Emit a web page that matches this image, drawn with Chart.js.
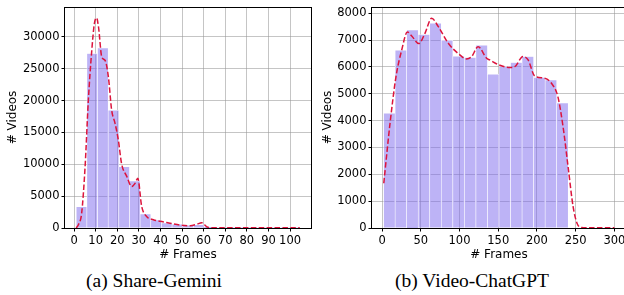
<!DOCTYPE html>
<html lang="en">
<head>
<meta charset="UTF-8">
<title>Frame distribution</title>
<script src="https://cdn.jsdelivr.net/npm/chart.js@4.4.1/dist/chart.umd.min.js"></script>
<style>
    body { margin: 0; background: #fff; }
    #wrap { position: relative; width: 624px; height: 295px; overflow: hidden; }
    .panel { position: absolute; top: 0; }
    .caption {
        position: absolute; top: 270px; width: 220px; text-align: center;
        font-family: "Liberation Serif", "Times New Roman", serif; font-size: 19.5px; line-height: 22px; color: #000;
    }
</style>
</head>
<body>
<div id="wrap">
    <div class="panel" style="left:0;width:312px;height:262px"><canvas id="gemini" width="312" height="262"></canvas></div>
    <div class="panel" style="left:312px;width:315px;height:262px"><canvas id="chatgpt" width="315" height="262"></canvas></div>
    <div class="caption" style="left:44px">(a) Share-Gemini</div>
    <div class="caption" style="left:362px">(b) Video-ChatGPT</div>
</div>

<script>
// Share-Gemini histogram (bin centres, counts) and KDE curve
const geminiBins = [3.47, 8.40, 13.33, 18.26, 23.19, 28.12, 33.05, 37.98, 42.91, 47.84, 52.77,
                    57.70, 62.63, 67.56, 72.49, 77.42, 82.35, 87.28, 92.21, 97.14, 102.07];
const geminiCounts = [3340, 27390, 28280, 18500, 9620, 7370, 2200, 1250, 800, 600, 450,
                      500, 120, 60, 40, 30, 30, 20, 20, 20, 15];
const geminiKdeX = [1, 2, 3.5, 5.1, 6.6, 8.2, 9.4, 10.4, 11.3, 12.8, 14.4, 15.9, 17.4, 19, 20.5, 22,
                    24.4, 26.7, 28.2, 29.5, 31.3, 33.6, 36.7, 39.8, 44.4, 49, 53.7, 56.8, 59.1, 61.4,
                    63.7, 70, 80, 90, 104.5];
const geminiKdeY = [0, 520, 2300, 9600, 20000, 27900, 32100, 33000, 31600, 26900, 26300, 23700, 18500,
                    16400, 13800, 10100, 8100, 6500, 7000, 7800, 3400, 1800, 1300, 1050, 760, 470, 360,
                    580, 830, 200, 50, 30, 30, 30, 20];
const geminiXTicks = [0, 10, 20, 30, 40, 50, 60, 70, 80, 90, 100];
const geminiYTicks = [0, 5000, 10000, 15000, 20000, 25000, 30000];

// Video-ChatGPT histogram and KDE curve
const chatgptBins = [9.45, 24.35, 39.25, 54.15, 69.05, 83.95, 98.85, 113.75, 128.65, 143.55,
                     158.45, 173.35, 188.25, 203.15, 218.05, 232.95];
const chatgptCounts = [4270, 6620, 7377, 7203, 7626, 6993, 6397, 6346, 6807, 5730,
                       6011, 6160, 6384, 5601, 5514, 4658];
const chatgptKdeX = [2.2, 10.3, 18, 25.4, 32.7, 38.3, 47.5, 55.4, 64, 72.6, 85.5, 100.5, 109, 115.6,
                     124, 135, 139, 151, 165, 171.5, 182, 188.6, 197, 210, 218.7, 227, 233.7, 240.2,
                     246.7, 251.9, 257.4, 265, 280, 300];
const chatgptKdeY = [1665, 3900, 5640, 6630, 7300, 7150, 6870, 7250, 7810, 7500, 6880, 6446, 6297, 6380,
                     6750, 6320, 6260, 6073, 5975, 6010, 6384, 6260, 5664, 5577, 5391, 4893, 3775, 2285,
                     795, 170, 20, 5, 5, 5];
const chatgptXTicks = [0, 50, 100, 150, 200, 250, 300];
const chatgptYTicks = [0, 1000, 2000, 3000, 4000, 5000, 6000, 7000, 8000];

Chart.defaults.font.family = "'DejaVu Sans', sans-serif";
Chart.defaults.color = '#000';

const frame = {
    id: 'frame',
    afterDraw(chart) {
        const { ctx, chartArea: a } = chart;
        ctx.save();
        ctx.strokeStyle = '#000';
        ctx.lineWidth = 1;
        ctx.strokeRect(Math.round(a.left) - 0.5, Math.round(a.top) + 0.5,
                       Math.round(a.right - a.left) + 1, Math.round(a.bottom - a.top));
        ctx.restore();
    }
};

function makeChart(id, bins, counts, kdeX, kdeY, xTicks, yTicks, xRange, yMax, yAxisWidth, yTitlePad) {
    const grid = {
        color: 'rgba(150,150,150,0.7)',
        lineWidth: 0.8,
        borderDash: [1.5, 1.5],
        tickColor: '#000',
        tickLength: 3.5,
        tickWidth: 1,
        tickBorderDash: [],
        offset: false
    };
    new Chart(document.getElementById(id), {
        type: 'bar',
        data: {
            datasets: [{
                type: 'line',
                order: 0,
                data: kdeX.map((x, i) => ({ x: x, y: kdeY[i] })),
                borderColor: '#DC143C',
                borderWidth: 1.5,
                borderDash: [5.5, 2.4],
                pointRadius: 0,
                cubicInterpolationMode: 'monotone',
                fill: false
            }, {
                type: 'bar',
                order: 1,
                data: bins.map((x, i) => ({ x: x, y: counts[i] })),
                backgroundColor: 'rgba(123,104,238,0.5)',
                borderColor: 'rgba(255,255,255,0.9)',
                borderWidth: { left: 0.6, right: 0.6, top: 0.6, bottom: 0 },
                borderSkipped: false,
                barPercentage: 1,
                categoryPercentage: 1,
                grouped: false
            }]
        },
        options: {
            responsive: false,
            animation: false,
            events: [],
            layout: { padding: { top: 7, right: 1, left: 0, bottom: 0 } },
            plugins: { legend: { display: false }, tooltip: { enabled: false } },
            scales: {
                x: {
                    type: 'linear',
                    min: xRange[0],
                    max: xRange[1],
                    offset: false,
                    grid: grid,
                    border: { display: false },
                    ticks: { font: { size: 11.5 }, padding: 2.5, maxRotation: 0, autoSkip: false,
                             callback: v => String(v) },
                    title: { display: true, text: '# Frames', font: { size: 12 }, padding: { top: 0, bottom: 0 } },
                    afterBuildTicks: axis => { axis.ticks = xTicks.map(v => ({ value: v })); },
                    afterFit: axis => { axis.height = 34; axis.paddingLeft = 0; axis.paddingRight = 0; }
                },
                y: {
                    type: 'linear',
                    min: 0,
                    max: yMax,
                    grid: grid,
                    border: { display: false },
                    ticks: { font: { size: 11.5 }, padding: 2, callback: v => String(v) },
                    title: { display: true, text: '# Videos', font: { size: 12 }, padding: { top: yTitlePad, bottom: 0 } },
                    afterBuildTicks: axis => { axis.ticks = yTicks.map(v => ({ value: v })); },
                    afterFit: axis => { axis.width = yAxisWidth; axis.paddingTop = 0; axis.paddingBottom = 0; }
                }
            }
        },
        plugins: [frame]
    });
}

makeChart('gemini', geminiBins, geminiCounts, geminiKdeX, geminiKdeY,
          geminiXTicks, geminiYTicks, [-4.2, 109.7], 34700, 65, 6);
makeChart('chatgpt', chatgptBins, chatgptCounts, chatgptKdeX, chatgptKdeY,
          chatgptXTicks, chatgptYTicks, [-13, 315], 8230, 60, 9);
</script>
</body>
</html>
